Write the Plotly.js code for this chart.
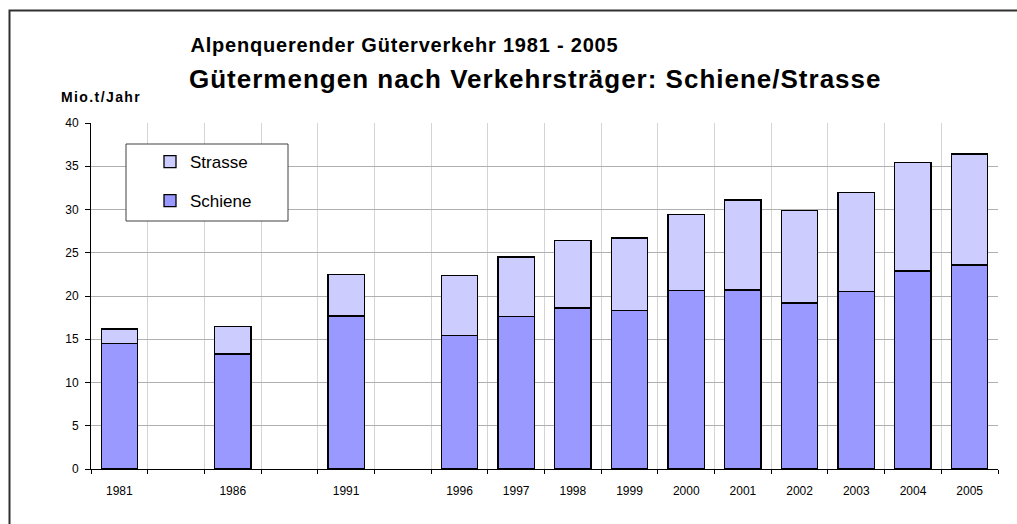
<!DOCTYPE html>
<html>
<head>
<meta charset="utf-8">
<script src="https://cdn.plot.ly/plotly-3.0.1.min.js"></script>
<style>
html,body{margin:0;padding:0;background:#fff;}
#chart{width:1017px;height:524px;}
g.annotation[data-index="0"] text{letter-spacing:0.8px;}
g.annotation[data-index="1"] text{letter-spacing:1px;}
g.annotation[data-index="2"] text{letter-spacing:1.4px;}
</style>
</head>
<body>
<div id="chart"></div>
<script>
// Category slots (blank slots keep the gaps between 1981, 1986, 1991 and 1996)
const years = ['1981', ' ', '1986', '  ', '1991', '   ', '1996', '1997', '1998', '1999', '2000', '2001', '2002', '2003', '2004', '2005'];
const schiene = [14.5, null, 13.3, null, 17.7, null, 15.4, 17.6, 18.6, 18.3, 20.6, 20.7, 19.2, 20.5, 22.9, 23.6];
const strasse = [1.7, null, 3.2, null, 4.8, null, 7.0, 6.9, 7.8, 8.4, 8.8, 10.4, 10.7, 11.5, 12.5, 12.8];
const yTicks = [0, 5, 10, 15, 20, 25, 30, 35, 40];

const FONT = 'Arial, "Liberation Sans", sans-serif';
const PX = (v) => (v - 91) / 907;          // page x -> paper x
const PY = (v) => 1 - (v - 123) / 346;     // page y -> paper y

const traces = [
  {
    type: 'bar', name: 'Schiene', x: years, y: schiene,
    marker: {color: '#9999FF', line: {color: '#000000', width: 1.3}},
    width: 0.64, legendgroup: 'b', legendrank: 2, hoverinfo: 'x+y'
  },
  {
    type: 'bar', name: 'Strasse', x: years, y: strasse,
    marker: {color: '#CCCCFF', line: {color: '#000000', width: 1.3}},
    width: 0.64, legendgroup: 'a', legendrank: 1, hoverinfo: 'x+y'
  }
];

const layout = {
  width: 1017, height: 524,
  margin: {l: 91, r: 19, t: 123, b: 55, pad: 0},
  paper_bgcolor: '#ffffff', plot_bgcolor: '#ffffff',
  barmode: 'stack',
  font: {family: FONT, size: 12, color: '#000'},
  showlegend: true,
  legend: {
    x: PX(130), y: PY(144), xanchor: 'left', yanchor: 'top',
    borderwidth: 0, bgcolor: 'rgba(0,0,0,0)',
    font: {family: FONT, size: 17, color: '#000'},
    traceorder: 'grouped', tracegroupgap: 14,
    indentation: 20
  },
  xaxis: {
    type: 'category', categoryorder: 'array', categoryarray: years,
    tickson: 'boundaries', showgrid: true, gridcolor: '#d4d4d4', gridwidth: 1,
    showline: true, linecolor: '#000', linewidth: 1,
    ticks: 'outside', ticklen: 4, tickcolor: '#000',
    tickfont: {family: FONT, size: 12, color: '#000'},
    ticklabelstandoff: 11,
    range: [-0.5, years.length - 0.5], fixedrange: true, zeroline: false
  },
  yaxis: {
    range: [0, 40], tickvals: yTicks, ticktext: yTicks.map(String),
    showgrid: true, gridcolor: '#b0b0b0', gridwidth: 1,
    showline: true, linecolor: '#000', linewidth: 1,
    ticks: 'outside', ticklen: 5, tickcolor: '#000',
    tickfont: {family: FONT, size: 12, color: '#000'},
    ticklabelstandoff: 4,
    zeroline: false, fixedrange: true
  },
  annotations: [
    {text: '<b>Alpenquerender Güterverkehr 1981 - 2005</b>', xref: 'paper', yref: 'paper',
     x: PX(204), y: PY(45), xanchor: 'left', yanchor: 'middle',
     showarrow: false, font: {family: FONT, size: 20, color: '#000'}},
    {text: '<b>Gütermengen nach Verkehrsträger: Schiene/Strasse</b>', xref: 'paper', yref: 'paper',
     x: PX(211), y: PY(79), xanchor: 'left', yanchor: 'middle',
     showarrow: false, font: {family: FONT, size: 26, color: '#000'}},
    {text: '<b>Mio.t/Jahr</b>', xref: 'paper', yref: 'paper',
     x: PX(66), y: PY(97), xanchor: 'left', yanchor: 'middle',
     showarrow: false, font: {family: FONT, size: 14, color: '#000'}}
  ],
  shapes: [
    {type: 'rect', xref: 'paper', yref: 'paper',
     x0: PX(9.5), x1: 1.2, y0: -0.3, y1: PY(10.5),
     line: {color: '#303030', width: 2}, fillcolor: 'rgba(0,0,0,0)', layer: 'below'},
    {type: 'rect', xref: 'paper', yref: 'paper',
     x0: PX(126), x1: PX(288), y0: PY(221), y1: PY(144),
     line: {color: '#404040', width: 1}, fillcolor: '#ffffff', layer: 'above'}
  ]
};

Plotly.newPlot('chart', traces, layout, {displayModeBar: false, staticPlot: true});
</script>
</body>
</html>
